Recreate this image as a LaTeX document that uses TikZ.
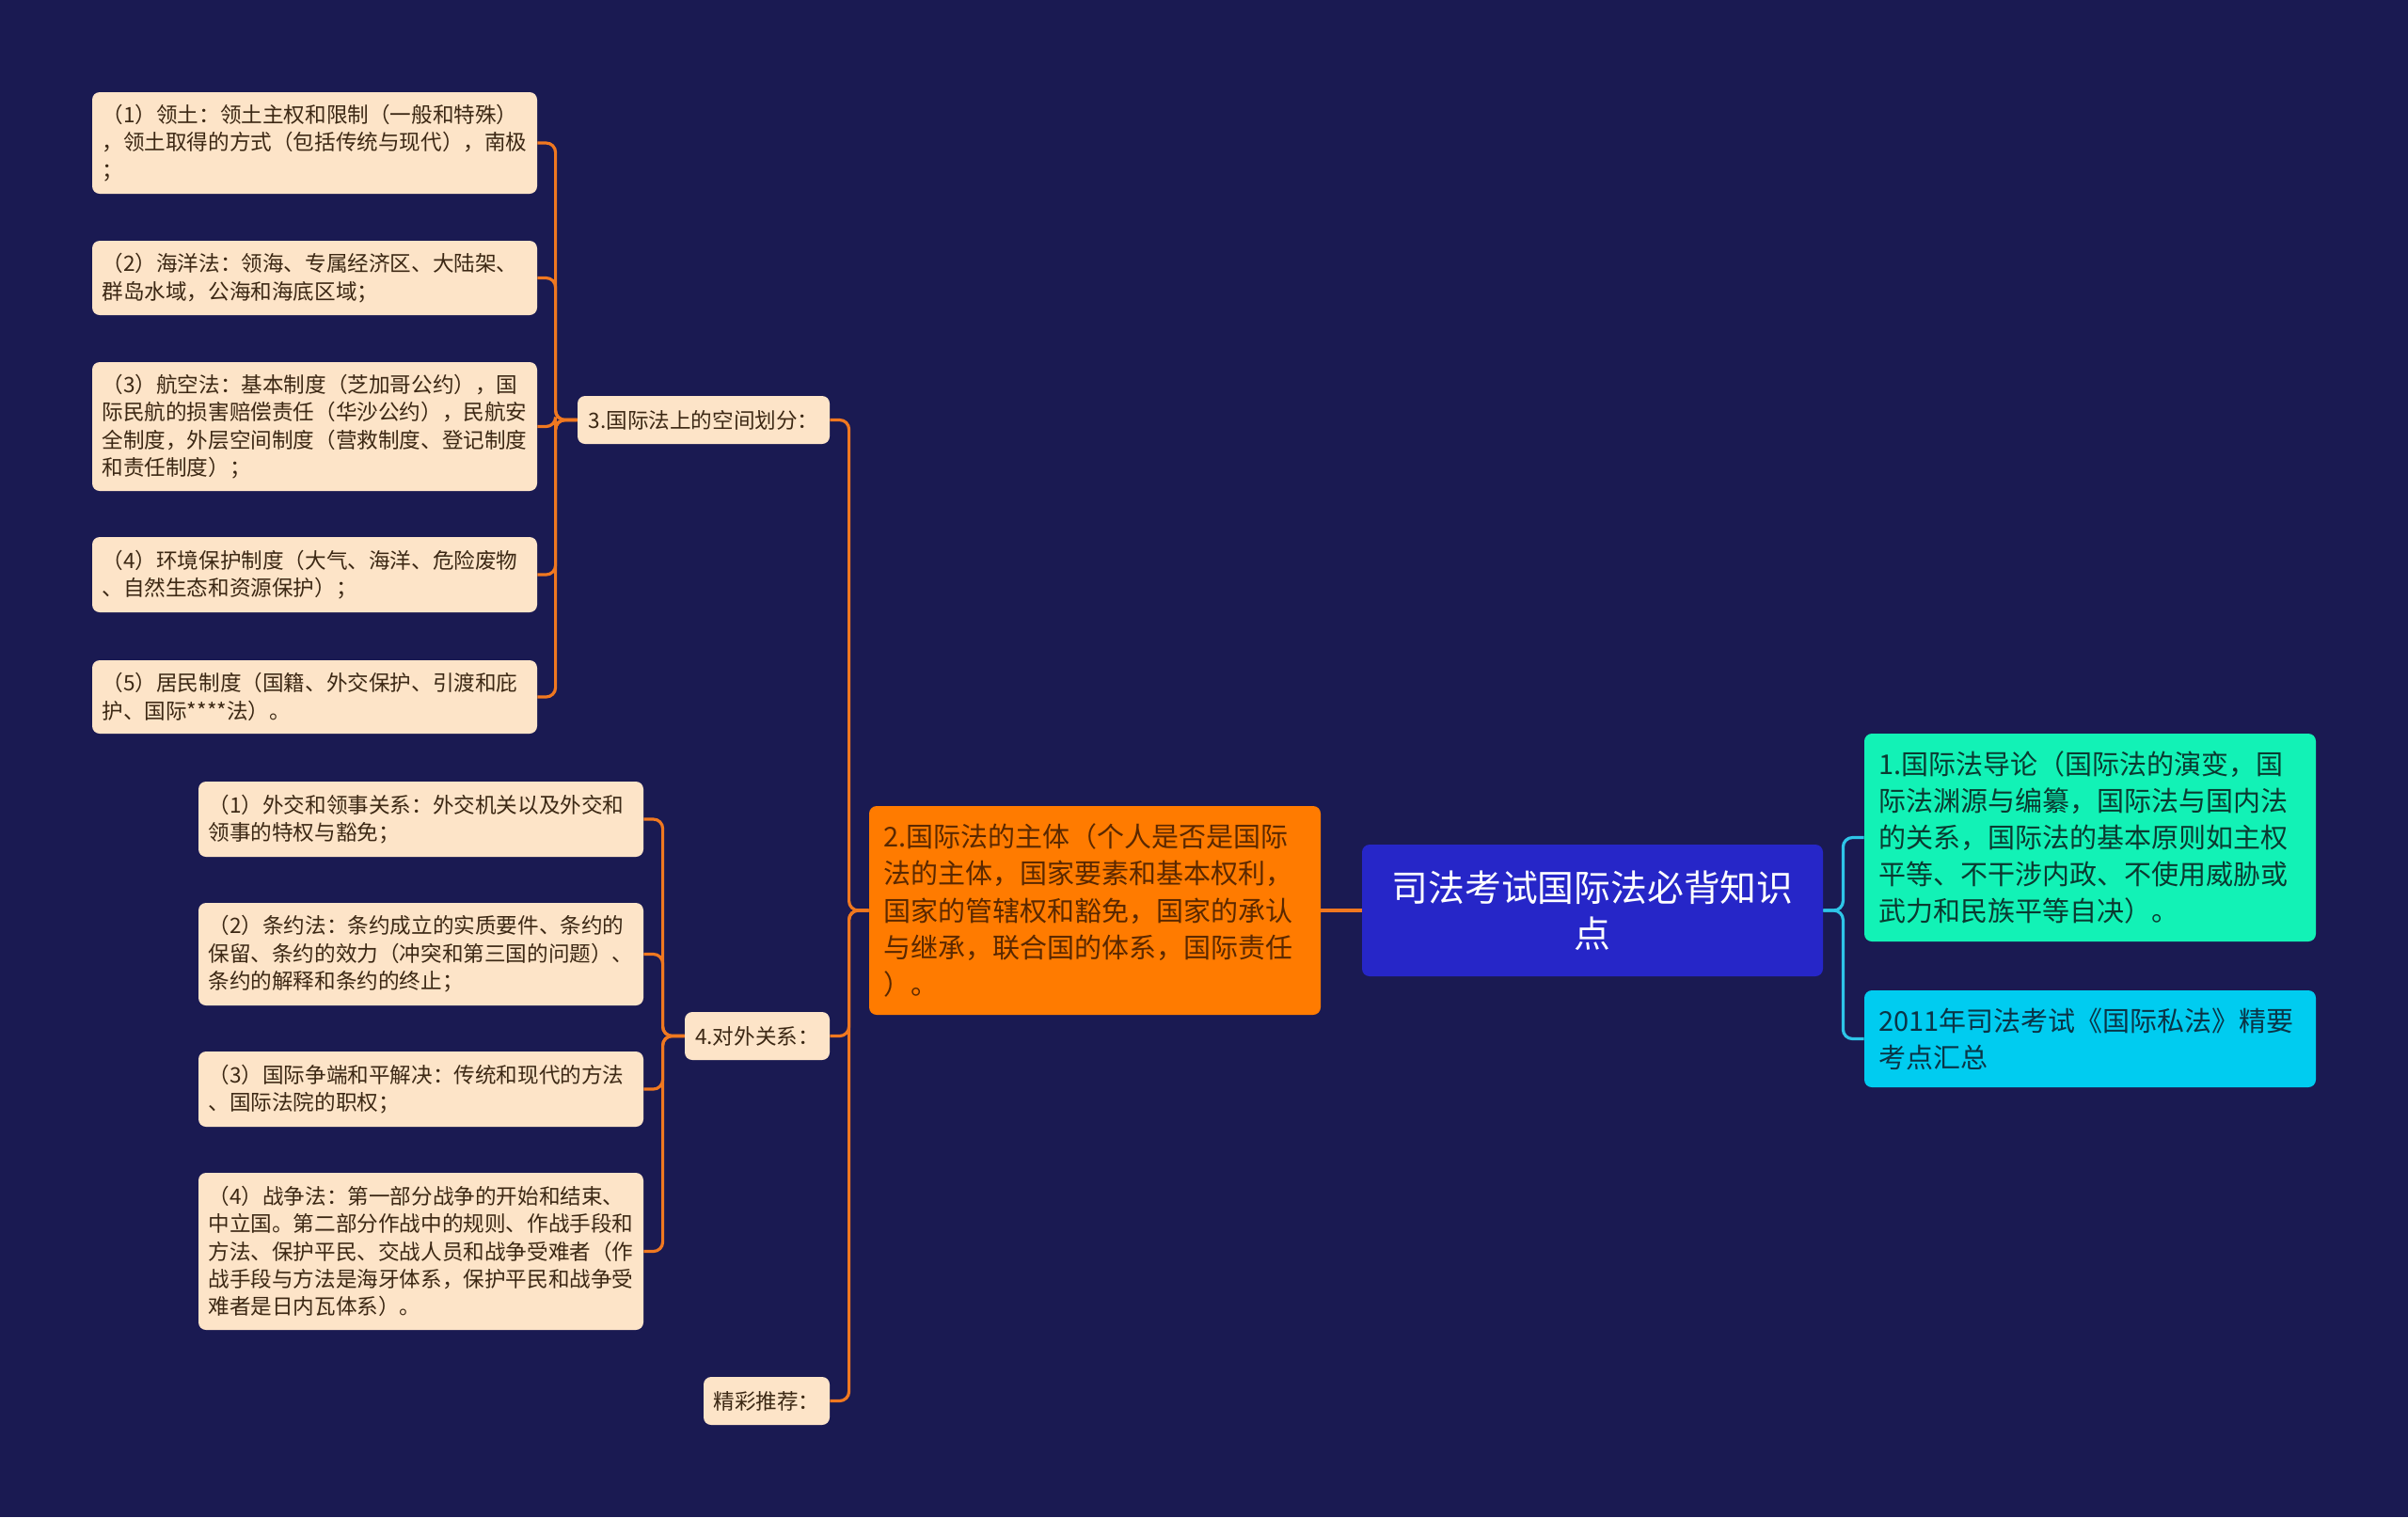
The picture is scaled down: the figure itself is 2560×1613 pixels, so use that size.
\documentclass[tikz,border=0pt]{standalone}
\usepackage{fontspec}
\setmainfont{Noto Sans CJK SC}
\definecolor{bgnavy}{HTML}{1A1A52}
\definecolor{leafbg}{HTML}{FDE4C8}
\definecolor{leaftext}{HTML}{3C2814}
\definecolor{rootbg}{HTML}{2626C8}
\definecolor{subjbg}{HTML}{FF7B00}
\definecolor{subjtext}{HTML}{5A2800}
\definecolor{introbg}{HTML}{12F2B6}
\definecolor{introtext}{HTML}{0A3A30}
\definecolor{privbg}{HTML}{00CCF0}
\definecolor{privtext}{HTML}{0A3446}
\definecolor{orline}{HTML}{F07820}
\definecolor{cyline}{HTML}{2EC5E8}

\begin{document}
\begin{tikzpicture}[x=0.5pt,y=-0.5pt,
  box/.style={rounded corners=4pt,inner ysep=0pt},
  leaf/.style={box,fill=leafbg,text=leaftext,align=left,text width=226pt,inner xsep=5.25pt,
    font=\fontsize{11.3pt}{14.7pt}\selectfont},
  tag/.style={box,fill=leafbg,text=leaftext,align=center,inner xsep=0pt,
    font=\fontsize{11.3pt}{14.7pt}\selectfont},
  big/.style={box,align=left,text width=225pt,inner xsep=7.5pt,
    font=\fontsize{14.5pt}{19.6pt}\selectfont},
  orlink/.style={draw=orline,line width=1.6pt,rounded corners=5pt},
  cylink/.style={draw=cyline,line width=1.6pt,rounded corners=5pt}]
  \fill[bgnavy] (0,0) rectangle (2560,1613);
  \useasboundingbox (0,0) rectangle (2560,1613);

  \node[box,fill=rootbg,text=white,align=center,minimum width=245pt,minimum height=70pt,
    font=\fontsize{19.4pt}{24.5pt}\selectfont] (root) at (1693,968)
    {司法考试国际法必背知识\\点};

  \node[big,fill=introbg,text=introtext,minimum height=110.5pt] (intro) at (2222,890.5)
    {1.国际法导论（国际法的演变，国\\际法渊源与编纂，国际法与国内法\\的关系，国际法的基本原则如主权\\平等、不干涉内政、不使用威胁或\\武力和民族平等自决）。};
  \node[big,fill=privbg,text=privtext,minimum height=51.5pt] (priv) at (2222,1104.5)
    {2011年司法考试《国际私法》精要\\考点汇总};

  \node[big,fill=subjbg,text=subjtext,minimum height=111pt] (subj) at (1164,968)
    {2.国际法的主体（个人是否是国际\\法的主体，国家要素和基本权利，\\国家的管辖权和豁免，国家的承认\\与继承，联合国的体系，国际责任\\）。};

  \node[tag,minimum width=134pt,minimum height=25.5pt] (space) at (748,446.5)
    {3.国际法上的空间划分：};
  \node[tag,minimum width=77pt,minimum height=25.5pt] (foreign) at (805,1101.5)
    {4.对外关系：};
  \node[tag,minimum width=67pt,minimum height=25.5pt] (recom) at (815,1489.5)
    {精彩推荐：};

  \node[leaf,minimum height=54pt] (sp1) at (334.5,152)
    {（1）领土：领土主权和限制（一般和特殊）\\，领土取得的方式（包括传统与现代），南极\\；};
  \node[leaf,minimum height=39.5pt] (sp2) at (334.5,295.5)
    {（2）海洋法：领海、专属经济区、大陆架、\\群岛水域，公海和海底区域；};
  \node[leaf,minimum height=68.5pt] (sp3) at (334.5,453.5)
    {（3）航空法：基本制度（芝加哥公约），国\\际民航的损害赔偿责任（华沙公约），民航安\\全制度，外层空间制度（营救制度、登记制度\\和责任制度）；};
  \node[leaf,minimum height=40pt] (sp4) at (334.5,611)
    {（4）环境保护制度（大气、海洋、危险废物\\、自然生态和资源保护）；};
  \node[leaf,minimum height=39pt] (sp5) at (334.5,741)
    {（5）居民制度（国籍、外交保护、引渡和庇\\护、国际****法）。};

  \node[leaf,minimum height=40pt] (fr1) at (447.5,871)
    {（1）外交和领事关系：外交机关以及外交和\\领事的特权与豁免；};
  \node[leaf,minimum height=54.5pt] (fr2) at (447.5,1014.5)
    {（2）条约法：条约成立的实质要件、条约的\\保留、条约的效力（冲突和第三国的问题）、\\条约的解释和条约的终止；};
  \node[leaf,minimum height=40pt] (fr3) at (447.5,1158)
    {（3）国际争端和平解决：传统和现代的方法\\、国际法院的职权；};
  \node[leaf,minimum height=83.5pt] (fr4) at (447.5,1330.5)
    {（4）战争法：第一部分战争的开始和结束、\\中立国。第二部分作战中的规则、作战手段和\\方法、保护平民、交战人员和战争受难者（作\\战手段与方法是海牙体系，保护平民和战争受\\难者是日内瓦体系）。};

  \draw[cylink] (root.east) -- ++(21,0) |- (intro.west);
  \draw[cylink] (root.east) -- ++(21,0) |- (priv.west);
  \draw[orlink] (root.west) -- (subj.east);
  \foreach \kid in {space,foreign,recom}
    \draw[orlink] (subj.west) -- ++(-21,0) |- (\kid.east);
  \foreach \kid in {sp1,sp2,sp3,sp4,sp5}
    \draw[orlink] (space.west) -- ++(-23,0) |- (\kid.east);
  \foreach \kid in {fr1,fr2,fr3,fr4}
    \draw[orlink] (foreign.west) -- ++(-23,0) |- (\kid.east);
\end{tikzpicture}
\end{document}
